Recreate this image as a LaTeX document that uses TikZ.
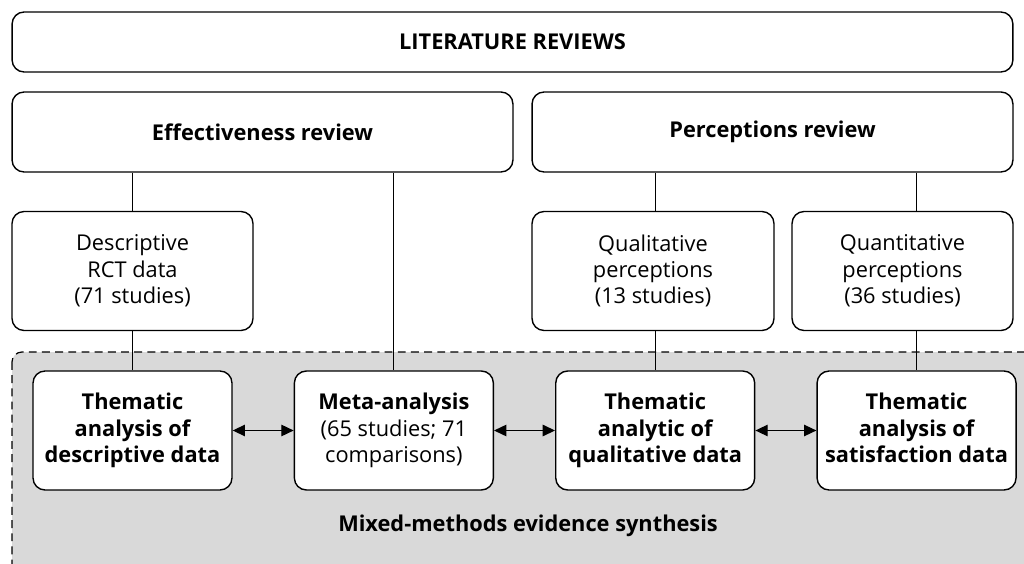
\documentclass[tikz,border=0pt]{standalone}
\usepackage{fontspec}
\setmainfont{Open Sans}
\usetikzlibrary{positioning, arrows.meta}
\definecolor{synthgrey}{RGB}{217,217,217}
\tikzset{
  box/.style={
    draw, rounded corners=0.24cm, line width=0.8pt, fill=white,
    align=center, inner sep=2pt, font=\fontsize{12.4}{15}\selectfont
  },
  head/.style={box, font=\fontsize{12.4}{15}\selectfont\bfseries},
  link/.style={draw, line width=0.7pt},
  both/.style={link, {Triangle[length=7pt,width=6.5pt]}-{Triangle[length=7pt,width=6.5pt]}},
  synth/.style={draw, dash pattern=on 4.5pt off 3pt, fill=synthgrey, line width=0.7pt, rounded corners=0.2cm},
}
\begin{document}
\begin{tikzpicture}[x=0.02cm, y=-0.02cm]
  \useasboundingbox (0,0) rectangle (1024,564);
  % synthesis area
  \draw[synth] (12,352) rectangle (1040,580);
  \node[font=\fontsize{12.4}{15}\selectfont\bfseries] (mixed) at (528,526) {Mixed-methods evidence synthesis};

  \node[head, minimum width=20.02cm, minimum height=1.2cm] (lit) at (512.5,42) {LITERATURE REVIEWS};
  \node[head, minimum width=10.02cm, minimum height=1.6cm] (eff) at (262.5,132) {Effectiveness review};
  \node[head, minimum width=9.62cm, minimum height=1.6cm] (perc) at (772.5,132) {Perceptions review};

  \node[box, minimum width=4.82cm, minimum height=2.38cm] (desc) at (132.5,271) {Descriptive\\RCT data\\(71 studies)};
  \node[box, minimum width=4.84cm, minimum height=2.38cm] (qual) at (653,271) {Qualitative\\perceptions\\(13 studies)};
  \node[box, minimum width=4.42cm, minimum height=2.38cm] (quant) at (902.5,271) {Quantitative\\perceptions\\(36 studies)};

  \node[head, minimum width=3.98cm, minimum height=2.38cm] (tdesc) at (132.5,430.5) {Thematic\\analysis of\\descriptive data};
  \node[box, minimum width=3.98cm, minimum height=2.38cm, right=1.22cm of tdesc] (meta) {\textbf{Meta-analysis}\\(65 studies; 71\\comparisons)};
  \node[head, minimum width=3.98cm, minimum height=2.38cm, right=1.22cm of meta] (tqual) {Thematic\\analytic of\\qualitative data};
  \node[head, minimum width=3.98cm, minimum height=2.38cm, right=1.22cm of tqual] (tsat) {Thematic\\analysis of\\satisfaction data\vphantom{p}};

  \draw[link] (eff.south -| desc.north) -- (desc.north);
  \draw[link] (desc.south) -- (tdesc.north);
  \draw[link] (eff.south -| meta.north) -- (meta.north);
  \draw[link] (perc.south -| tqual.north) -- (qual.north -| tqual.north);
  \draw[link] (qual.south -| tqual.north) -- (tqual.north);
  \draw[link] (perc.south -| tsat.north) -- (quant.north -| tsat.north);
  \draw[link] (quant.south -| tsat.north) -- (tsat.north);

  \draw[both] (tdesc) -- (meta);
  \draw[both] (meta) -- (tqual);
  \draw[both] (tqual) -- (tsat);
\end{tikzpicture}
\end{document}
